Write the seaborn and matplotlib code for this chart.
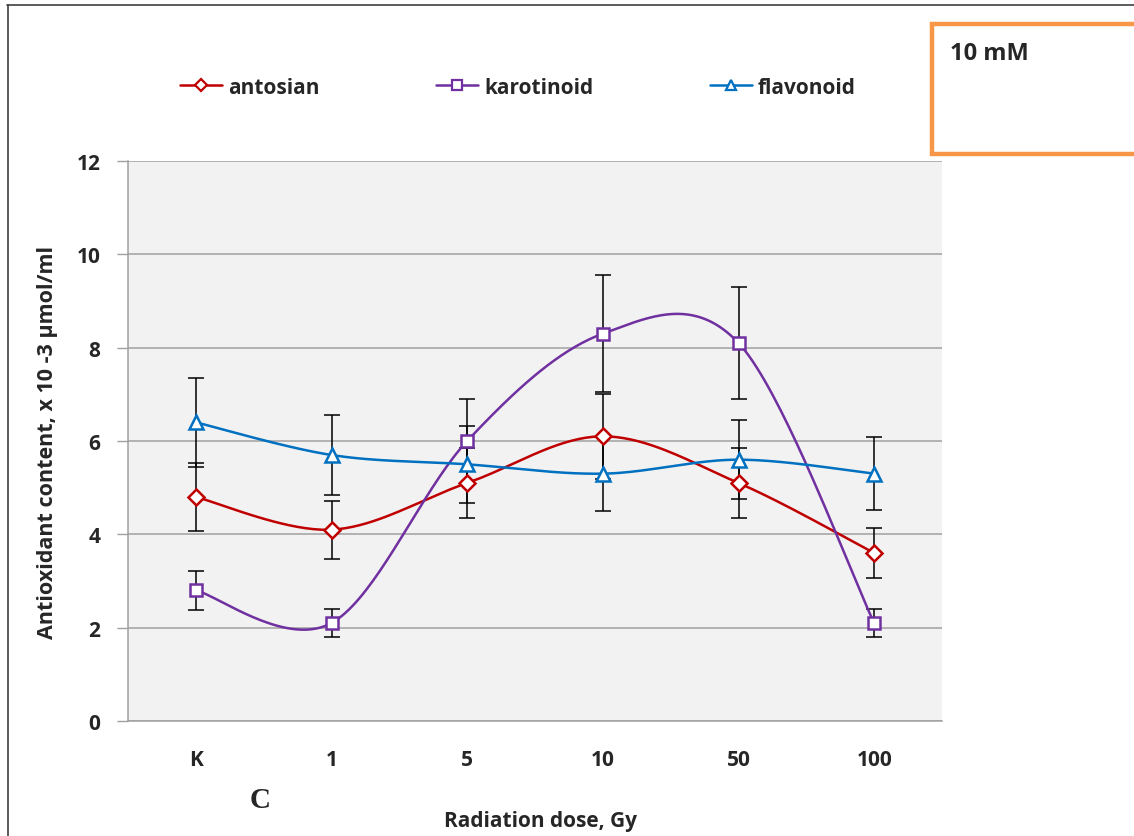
import numpy as np
import pandas as pd
import matplotlib
matplotlib.use("Agg")
import matplotlib.pyplot as plt
from matplotlib.lines import Line2D
from matplotlib.patches import Rectangle
import seaborn as sns

categories = ["K", "1", "5", "10", "50", "100"]
antosian = [4.8, 4.1, 5.1, 6.1, 5.1, 3.6]
antosian_err = [0.72, 0.62, 0.76, 0.91, 0.76, 0.54]
karotinoid = [2.8, 2.1, 6.0, 8.3, 8.1, 2.1]
karotinoid_err = [0.42, 0.31, 0.90, 1.25, 1.21, 0.31]
flavonoid = [6.4, 5.7, 5.5, 5.3, 5.6, 5.3]
flavonoid_err = [0.96, 0.86, 0.82, 0.80, 0.84, 0.78]

series_names = ["antosian", "karotinoid", "flavonoid"]
series_vals = [antosian, karotinoid, flavonoid]
series_errs = [antosian_err, karotinoid_err, flavonoid_err]
colors = ["#C00000", "#7030A0", "#0070C0"]
markers = ["D", "s", "^"]
msizes = [8.5, 8.5, 9.5]

sns.set_theme(style="white")
plt.rcParams["font.family"] = ["Open Sans", "DejaVu Sans"]

FS = 15

W, H = 1134, 837
fig = plt.figure(figsize=(W / 100, H / 100), dpi=100)
ax = fig.add_axes([128 / W, 1 - 722 / H, (942 - 128) / W, (722 - 162) / H])
ax.set_facecolor("#F2F2F2")


def smooth(xs, ys, n=40):
    # Excel-like smoothed line: Catmull-Rom as cubic Bezier (parametric)
    P = np.column_stack([xs, ys]).astype(float)
    Pext = np.vstack([P[0], P, P[-1]])
    out = []
    for i in range(len(P) - 1):
        p0, p1, p2, p3 = Pext[i], Pext[i + 1], Pext[i + 2], Pext[i + 3]
        c1 = p1 + (p2 - p0) / 6.0
        c2 = p2 - (p3 - p1) / 6.0
        t = np.linspace(0, 1, n)[:, None]
        seg = ((1 - t) ** 3) * p1 + 3 * ((1 - t) ** 2) * t * c1 + 3 * (1 - t) * t ** 2 * c2 + t ** 3 * p2
        if i > 0:
            seg = seg[1:]
        out.append(seg)
    return np.vstack(out)


xpos = np.arange(len(categories))

for vals, errs in zip(series_vals, series_errs):
    ax.errorbar(xpos, vals, yerr=errs, fmt="none", ecolor="black",
                elinewidth=1.1, capsize=6, capthick=1.1, zorder=2)

rows = []
for name, vals in zip(series_names, series_vals):
    sm = smooth(xpos, vals)
    for k, (xx, yy) in enumerate(sm):
        rows.append({"series": name, "x": xx, "y": yy, "order": k})
df = pd.DataFrame(rows)
sns.lineplot(data=df, x="x", y="y", hue="series", palette=dict(zip(series_names, colors)),
             sort=False, estimator=None, units="series", linewidth=1.8, ax=ax, legend=False, zorder=3)

for name, vals, c, m, ms in zip(series_names, series_vals, colors, markers, msizes):
    ax.plot(xpos, vals, linestyle="none", marker=m, markersize=ms,
            markerfacecolor="white", markeredgecolor=c, markeredgewidth=1.8, zorder=4)

ax.set_xlim(-0.5, len(categories) - 0.5)
ax.set_ylim(0, 12)
ax.set_yticks(np.arange(0, 13, 2))
ax.set_yticklabels([str(v) for v in range(0, 13, 2)], fontsize=FS, fontweight="bold")
ax.set_xticks(xpos)
ax.set_xticklabels(categories, fontsize=FS, fontweight="bold")
ax.set_xticks(np.arange(-0.5, len(categories), 1), minor=True)
ax.tick_params(axis="x", which="major", length=0, pad=20)
ax.tick_params(axis="x", which="minor", length=8, color="#A0A0A0", width=1, direction="out")
ax.tick_params(axis="y", which="major", length=8, color="#A0A0A0", width=1, direction="out", pad=12, left=True)
ax.yaxis.grid(True, color="#A0A0A0", linewidth=1.1)
ax.xaxis.grid(False)
ax.set_axisbelow(True)
for s in ["top", "right"]:
    ax.spines[s].set_visible(False)
for s in ["left", "bottom"]:
    ax.spines[s].set_color("#A0A0A0")
    ax.spines[s].set_linewidth(1.1)
ax.set_xlabel("")
ax.set_ylabel("")

fig.text(48 / W, 1 - 442 / H, "Antioxidant content, x 10 -3 µmol/ml", rotation=90,
         ha="center", va="center", fontsize=15.5, fontweight="bold")
fig.text(540 / W, 1 - 822 / H, "Radiation dose, Gy", ha="center", va="center",
         fontsize=FS, fontweight="bold")
fig.text(260 / W, 1 - 801 / H, "C", ha="center", va="center", fontsize=21,
         fontweight="bold", family=["Liberation Serif"])

handles = [Line2D([0], [0], color=c, lw=1.8, marker=m, markersize=7 if m != "D" else 6.5,
                  markerfacecolor="white", markeredgecolor=c, markeredgewidth=1.6)
           for c, m in zip(colors, markers)]
leg = fig.legend(handles, series_names, loc="center", bbox_to_anchor=(518 / W, 1 - 88 / H),
                 ncol=3, frameon=False, handlelength=2.0, handletextpad=0.3, columnspacing=5.6,
                 prop={"weight": "bold", "size": FS})

fig.patches.append(Rectangle((932 / W, 1 - 155 / H), 260 / W, 130 / H, transform=fig.transFigure,
                             facecolor="white", edgecolor="#F79646", linewidth=3.2, figure=fig))
fig.text(950 / W, 1 - 54 / H, "10 mM", ha="left", va="center", fontsize=17, fontweight="bold")

fig.add_artist(Line2D([7 / W, 1], [1 - 5.5 / H, 1 - 5.5 / H], color="#404040", lw=1.2, transform=fig.transFigure))
fig.add_artist(Line2D([7.5 / W, 7.5 / W], [0, 1 - 5.5 / H], color="#404040", lw=1.2, transform=fig.transFigure))

fig.savefig("out.png", dpi=100, facecolor="white")
